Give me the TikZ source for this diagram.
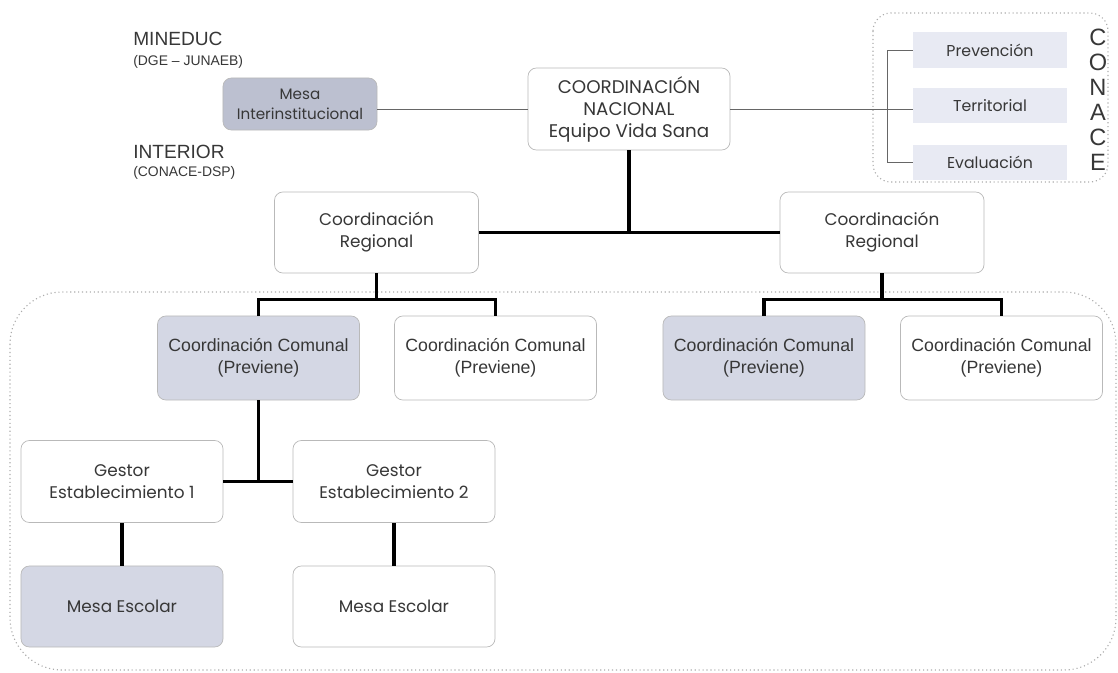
\documentclass[tikz,border=0pt]{standalone}
\usepackage{fontspec}
\setmainfont{Liberation Sans}
\newfontfamily\gothic{Poppins}
\definecolor{ink}{RGB}{55,55,55}
\definecolor{boxline}{RGB}{185,185,185}
\definecolor{deepfill}{RGB}{188,192,208}
\definecolor{midfill}{RGB}{212,215,228}
\definecolor{softfill}{RGB}{232,234,243}

\begin{document}
\begin{tikzpicture}[x=0.025cm,y=-0.025cm,
                    box/.style={draw=boxline,line width=0.5pt,rounded corners=6pt,fill=white,
                                text=ink,align=center,inner sep=0pt,
                                font=\gothic\fontsize{12}{15.6}\selectfont},
                    wide box/.style={box,minimum width=5.05cm,minimum height=2.05cm},
                    arial box/.style={wide box,font=\fontsize{12.6}{15.6}\selectfont,minimum height=2.1cm},
                    unit/.style={draw=none,fill=softfill,text=ink,inner sep=0pt,
                                 minimum width=3.85cm,minimum height=0.875cm,
                                 font=\gothic\fontsize{11.2}{13}\selectfont},
                    label/.style={anchor=west,text=ink,inner sep=0pt},
                    frame/.style={draw=gray!65,dotted,line width=0.8pt},
                    link/.style={line width=2.2pt,black},
                    thin link/.style={line width=0.7pt,gray!80!black}]

  \useasboundingbox (0,0) rectangle (1118,672);

  %frames%
  \draw[frame,rounded corners=0.45cm] (873,13) rectangle (1108,182);
  \draw[frame,rounded corners=1.3cm] (10,292) rectangle (1116,670);

  %ministerios%
  \node[label,font=\fontsize{13.6}{15}\selectfont] (MIN) at (133,39) {MINEDUC};
  \node[label,font=\fontsize{9.9}{11}\selectfont] (DGE) at (133,62) {(DGE -- JUNAEB)};
  \node[label,font=\fontsize{13.6}{15}\selectfont] (INT) at (133,152) {INTERIOR};
  \node[label,font=\fontsize{9.9}{11}\selectfont] (DSP) at (133,173) {(CONACE-DSP)};
  \node[box,fill=deepfill,minimum width=3.85cm,minimum height=1.3cm,
        font=\gothic\fontsize{10.8}{14.2}\selectfont] (MI) at (300,104) {Mesa\\Interinstitucional};

  %nacional%
  \node[wide box,font=\gothic\fontsize{13}{15.6}\selectfont] (CN) at (629,109) {COORDINACIÓN\\NACIONAL\\Equipo Vida Sana};

  %conace%
  \node[unit] (P1) at (990,50) {Prevención};
  \node[unit] (P2) at (990,105.5) {Territorial};
  \node[unit] (P3) at (990,162.5) {Evaluación};
  \node[text=ink,align=center,inner sep=0pt,font=\fontsize{16.8}{17.8}\selectfont] (CON) at (1098,100) {C\\O\\N\\A\\C\\E};

  %regional%
  \node[wide box,minimum width=5.1cm,minimum height=2.025cm] (R1) at (376.5,232.5) {Coordinación\\Regional};
  \node[wide box,minimum width=5.1cm,minimum height=2.025cm] (R2) at (882,232.5) {Coordinación\\Regional};

  %comunal%
  \node[arial box,fill=midfill] (C1) at (258.5,358) {Coordinación Comunal\\(Previene)};
  \node[arial box] (C2) at (495.5,358) {Coordinación Comunal\\(Previene)};
  \node[arial box,fill=midfill] (C3) at (764,358) {Coordinación Comunal\\(Previene)};
  \node[arial box] (C4) at (1001.5,358) {Coordinación Comunal\\(Previene)};

  %establecimientos%
  \node[wide box] (G1) at (122,481.5) {Gestor\\Establecimiento 1};
  \node[wide box] (G2) at (394,481.5) {Gestor\\Establecimiento 2};
  \node[wide box,fill=midfill,minimum height=2.025cm] (M1) at (122,606.5) {Mesa Escolar};
  \node[wide box,minimum height=2.025cm] (M2) at (394,606.5) {Mesa Escolar};

  \draw[thin link] (CN.west) -- (CN.west -| MI.east);
  \draw[thin link] (CN.east) -- (CN.east -| P2.west);
  \draw[thin link] (P1.west) -- ++(-25,0) |- (P3.west);

  \draw[link] (CN.south) -- (CN.south |- R1.east);
  \draw[link] (R1) -- (R2);
  \draw[link] (R1.south) -- ++(0,27);
  \draw[link] (C1.north) -- ++(0,-16) -| (C2.north);
  \draw[link] (R2.south) -- ++(0,27);
  \draw[link] (C3.north) -- ++(0,-16) -| (C4.north);
  \draw[link] (C1.south) -- (C1.south |- G1.east);
  \draw[link] (G1) -- (G2);
  \draw[link] (G1) -- (M1);
  \draw[link] (G2) -- (M2);
\end{tikzpicture}
\end{document}
